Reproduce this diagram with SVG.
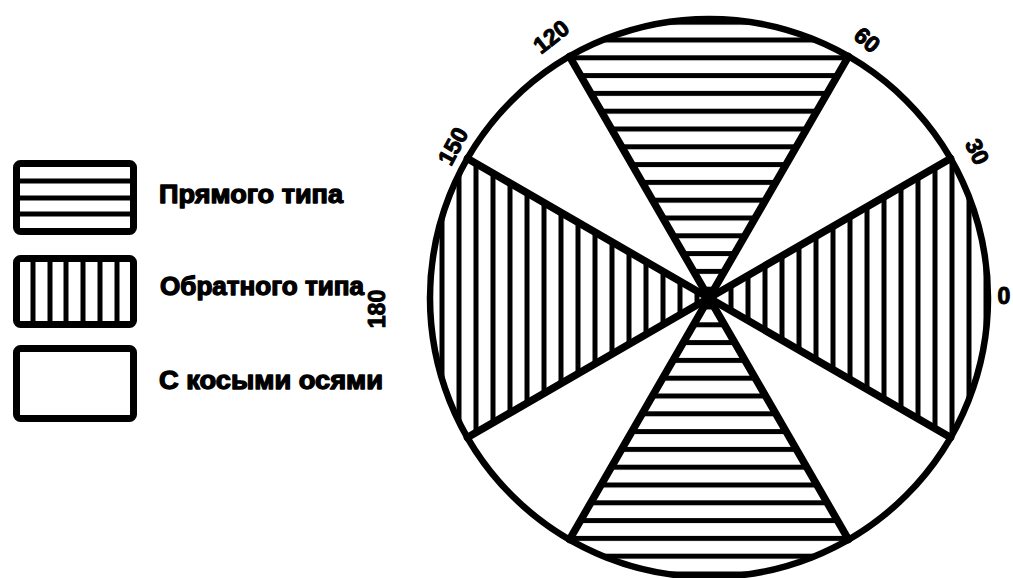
<svg xmlns="http://www.w3.org/2000/svg" width="1013" height="578" viewBox="0 0 1013 578">
<style>
.box{fill:#fff;stroke:#000;stroke-width:7}
.hl{stroke:#000;stroke-width:5}
.spoke{stroke:#000;stroke-width:7.5;stroke-linecap:round}
.lbl{font-family:"Liberation Sans",Arial,sans-serif;font-weight:bold;fill:#000;stroke:#000;stroke-width:1.3;stroke-linejoin:round}
.deg{font-family:"Liberation Sans",Arial,sans-serif;font-weight:bold;font-size:23px;fill:#000;stroke:#000;stroke-width:1;stroke-linejoin:round}
</style>
<defs>
<pattern id="hor" patternUnits="userSpaceOnUse" x="0" y="37.5" width="40" height="17.8">
<rect x="0" y="0" width="40" height="5" fill="#000"/>
</pattern>
<pattern id="ver" patternUnits="userSpaceOnUse" x="-2.5" y="0" width="17" height="40">
<rect x="0" y="0" width="5" height="40" fill="#000"/>
</pattern>
</defs>
<rect width="1013" height="578" fill="#fff"/>

<g id="legend-direct">
<rect class="box" x="16.5" y="163.5" width="117" height="68" rx="4"/>
<line class="hl" x1="18" y1="181" x2="132" y2="181"/>
<line class="hl" x1="18" y1="198" x2="132" y2="198"/>
<line class="hl" x1="18" y1="214" x2="132" y2="214"/>
<text class="lbl" x="159" y="203" font-size="25" textLength="184" lengthAdjust="spacingAndGlyphs">Прямого типа</text>
</g>
<g id="legend-inverse">
<rect class="box" x="16.5" y="258.5" width="117" height="66" rx="4"/>
<line class="hl" x1="33" y1="260" x2="33" y2="323"/>
<line class="hl" x1="50" y1="260" x2="50" y2="323"/>
<line class="hl" x1="66" y1="260" x2="66" y2="323"/>
<line class="hl" x1="83" y1="260" x2="83" y2="323"/>
<line class="hl" x1="100" y1="260" x2="100" y2="323"/>
<line class="hl" x1="117" y1="260" x2="117" y2="323"/>
<text class="lbl" x="160" y="295" font-size="25" textLength="204" lengthAdjust="spacingAndGlyphs">Обратного типа</text>
</g>
<g id="legend-oblique">
<rect class="box" x="16.5" y="348.5" width="117" height="70" rx="4"/>
<text class="lbl" x="159" y="389" font-size="25" textLength="224" lengthAdjust="spacingAndGlyphs">С косыми осями</text>
</g>

<g id="wedges">
<path d="M709,298 L569.5,56.4 A279,279 0 0 1 848.5,56.4 Z" fill="url(#hor)"/>
<path d="M709,298 L848.5,539.6 A279,279 0 0 1 569.5,539.6 Z" fill="url(#hor)"/>
<path d="M709,298 L950.6,158.5 A279,279 0 0 1 950.6,437.5 Z" fill="url(#ver)"/>
<path d="M709,298 L467.4,437.5 A279,279 0 0 1 467.4,158.5 Z" fill="url(#ver)"/>
</g>

<g id="connectors">
<line class="spoke" x1="569.5" y1="56.4" x2="848.5" y2="539.6"/>
<line class="spoke" x1="848.5" y1="56.4" x2="569.5" y2="539.6"/>
<line class="spoke" x1="467.4" y1="158.5" x2="950.6" y2="437.5"/>
<line class="spoke" x1="950.6" y1="158.5" x2="467.4" y2="437.5"/>
</g>

<g id="circle">
<circle cx="709" cy="298" r="279" fill="none" stroke="#000" stroke-width="6.5"/>
</g>

<g id="labels">
<text class="deg" text-anchor="middle" transform="translate(556,43) rotate(-38)">120</text>
<text class="deg" text-anchor="middle" transform="translate(862,46) rotate(40)">60</text>
<text class="deg" text-anchor="middle" transform="translate(970,155) rotate(65)">30</text>
<text class="deg" text-anchor="middle" transform="translate(460,150) rotate(-62)">150</text>
<text class="deg" text-anchor="middle" transform="translate(385,309) rotate(-90)">180</text>
<text class="deg" text-anchor="middle" x="1004" y="304">0</text>
</g>
</svg>
